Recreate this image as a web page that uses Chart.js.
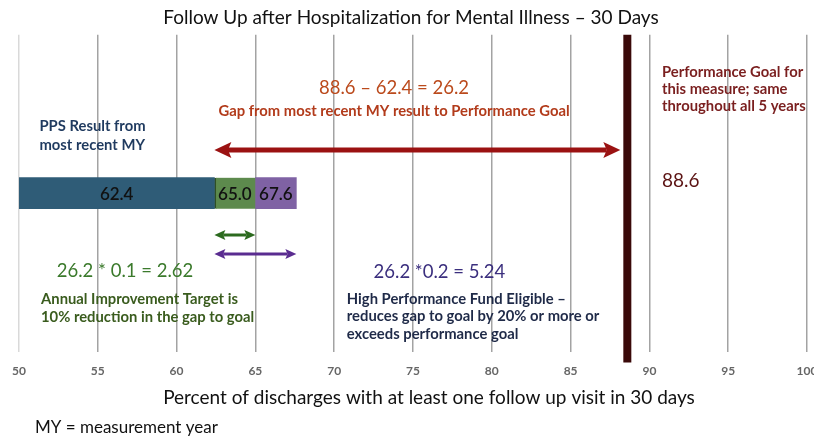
<!DOCTYPE html>
<html>
<head>
<meta charset="utf-8">
<script src="https://cdn.jsdelivr.net/npm/chart.js@4.4.1/dist/chart.umd.min.js"></script>
<style>
  html, body { margin: 0; padding: 0; background: #fff; overflow: hidden; }
  #wrap { width: 834px; height: 437px; }
</style>
</head>
<body>
<div id="wrap"><canvas id="gapChart" width="834" height="437"></canvas></div>
<script>
// Chart data
const categories = ["Follow Up 30 Days"];
const segmentNames = ["PPS Result", "Annual Improvement Target", "High Performance Fund Eligible"];
const segmentValues = [62.4, 65.0, 67.6];
const segmentLabels = ["62.4", "65.0", "67.6"];
const performanceGoal = 88.6;
const axisMin = 50;
const axisMax = 100;
const tickStep = 5;

const segmentColors = ["#2f5c77", "#5d8a4d", "#7f62a4"];
const FONT = "Lato, 'Open Sans', sans-serif";
const BOLD = "bold 14.8px " + FONT;

// floating bars: each segment starts where the previous one ends
const datasets = segmentValues.map((v, i) => ({
  label: segmentNames[i],
  data: [[i === 0 ? axisMin : segmentValues[i - 1], v]],
  backgroundColor: segmentColors[i],
  borderColor: i === 1 ? "#2f4f25" : segmentColors[i],
  borderWidth: i === 1 ? { left: 2 } : 0,
  borderSkipped: false,
  barThickness: 31,
  grouped: false
}));

function arrow(ctx, x1, x2, y, color, lw, headLen, headHalf) {
  ctx.save();
  ctx.strokeStyle = color;
  ctx.fillStyle = color;
  ctx.lineWidth = lw;
  ctx.beginPath();
  ctx.moveTo(x1 + headLen * 0.8, y);
  ctx.lineTo(x2 - headLen * 0.8, y);
  ctx.stroke();
  [[x1, 1], [x2, -1]].forEach(([x, d]) => {
    ctx.beginPath();
    ctx.moveTo(x, y);
    ctx.lineTo(x + d * headLen, y - headHalf);
    ctx.lineTo(x + d * headLen * 0.8, y);
    ctx.lineTo(x + d * headLen, y + headHalf);
    ctx.closePath();
    ctx.fill();
  });
  ctx.restore();
}

function text(ctx, lines, x, y, opts) {
  ctx.save();
  ctx.font = opts.font;
  ctx.fillStyle = opts.color;
  ctx.textAlign = opts.align || "left";
  ctx.textBaseline = "middle";
  [].concat(lines).forEach((l, i) => ctx.fillText(l, x, y + i * (opts.lh || 0)));
  ctx.restore();
}

const gapPlugin = {
  id: "gapPlugin",
  afterDatasetsDraw(chart) {
    const ctx = chart.ctx;
    const xs = chart.scales.x;
    const area = chart.chartArea;
    const px = v => xs.getPixelForValue(v);

    // bar value labels
    chart.data.datasets.forEach((ds, i) => {
      const el = chart.getDatasetMeta(i).data[0];
      text(ctx, segmentLabels[i], (el.x + el.base) / 2, el.y + 1,
        { font: "600 17px " + FONT, color: "#111", align: "center" });
    });

    // performance goal line
    const gx = px(performanceGoal);
    ctx.save();
    ctx.strokeStyle = "#3a0909";
    ctx.lineWidth = 8;
    ctx.beginPath();
    ctx.moveTo(gx, area.top);
    ctx.lineTo(gx, area.bottom + 11);
    ctx.stroke();
    ctx.restore();

    // arrows
    arrow(ctx, px(segmentValues[0]), gx - 7, 150, "#9b1212", 5, 17, 8);
    arrow(ctx, px(segmentValues[0]), px(segmentValues[1]), 235, "#2c6a1f", 3, 11, 5);
    arrow(ctx, px(segmentValues[0]), px(segmentValues[2]), 254, "#5a2c90", 3, 11, 5);

    // annotations
    text(ctx, ["Performance Goal for", "this measure; same", "throughout all 5 years"], px(90.8), 72,
      { font: BOLD, color: "#7a1f1f", lh: 17 });
    text(ctx, String(performanceGoal), px(90.8), 181, { font: "19px " + FONT, color: "#5c1414" });
    text(ctx, "88.6 \u2013 62.4 = 26.2", px(73.8), 88,
      { font: "18.5px " + FONT, color: "#bb4a1c", align: "center" });
    text(ctx, "Gap from most recent MY result to Performance Goal", px(73.8), 111,
      { font: BOLD, color: "#b23b1b", align: "center" });
    text(ctx, ["PPS Result from", "most recent MY"], px(51.3), 126,
      { font: BOLD, color: "#1f3a5f", lh: 19 });
    text(ctx, "26.2 * 0.1 = 2.62", px(52.4), 271, { font: "18.5px " + FONT, color: "#3b7a2c" });
    text(ctx, ["Annual Improvement Target is", "10% reduction in the gap to goal"], px(51.4), 299,
      { font: BOLD, color: "#3a5c1e", lh: 18 });
    text(ctx, "26.2 *0.2 = 5.24", px(72.5), 272, { font: "18.5px " + FONT, color: "#3b2f7e" });
    text(ctx, ["High Performance Fund Eligible \u2013", "reduces gap to goal by 20% or more or", "exceeds performance goal"],
      px(70.8), 299, { font: BOLD, color: "#1f2a48", lh: 17.5 });

    // axis title and footnote
    text(ctx, "Percent of discharges with at least one follow up visit in 30 days", 429, 398,
      { font: "19px " + FONT, color: "#111", align: "center" });
    text(ctx, "MY = measurement year", 35, 428, { font: "17px " + FONT, color: "#111" });
  }
};

new Chart(document.getElementById("gapChart"), {
  type: "bar",
  data: { labels: categories, datasets: datasets },
  options: {
    indexAxis: "y",
    responsive: false,
    animation: false,
    layout: { padding: { left: 15, right: 27, bottom: 47 } },
    plugins: {
      legend: { display: false },
      tooltip: { enabled: false },
      title: {
        display: true,
        text: "Follow Up after Hospitalization for Mental Illness \u2013 30 Days",
        color: "#111",
        font: { family: FONT, size: 19, weight: "normal" },
        padding: { top: 6, bottom: 6 }
      }
    },
    scales: {
      x: {
        type: "linear",
        min: axisMin,
        max: axisMax,
        ticks: { stepSize: tickStep, padding: 12, color: "#666", font: { family: FONT, size: 12, weight: "bold" } },
        grid: {
          color: ctx => ctx.index === 0 ? "#d9d9d9" : "#a3a3a3",
          lineWidth: 1.5,
          drawTicks: false
        },
        border: { display: false }
      },
      y: { display: false }
    }
  },
  plugins: [gapPlugin]
});
</script>
</body>
</html>
